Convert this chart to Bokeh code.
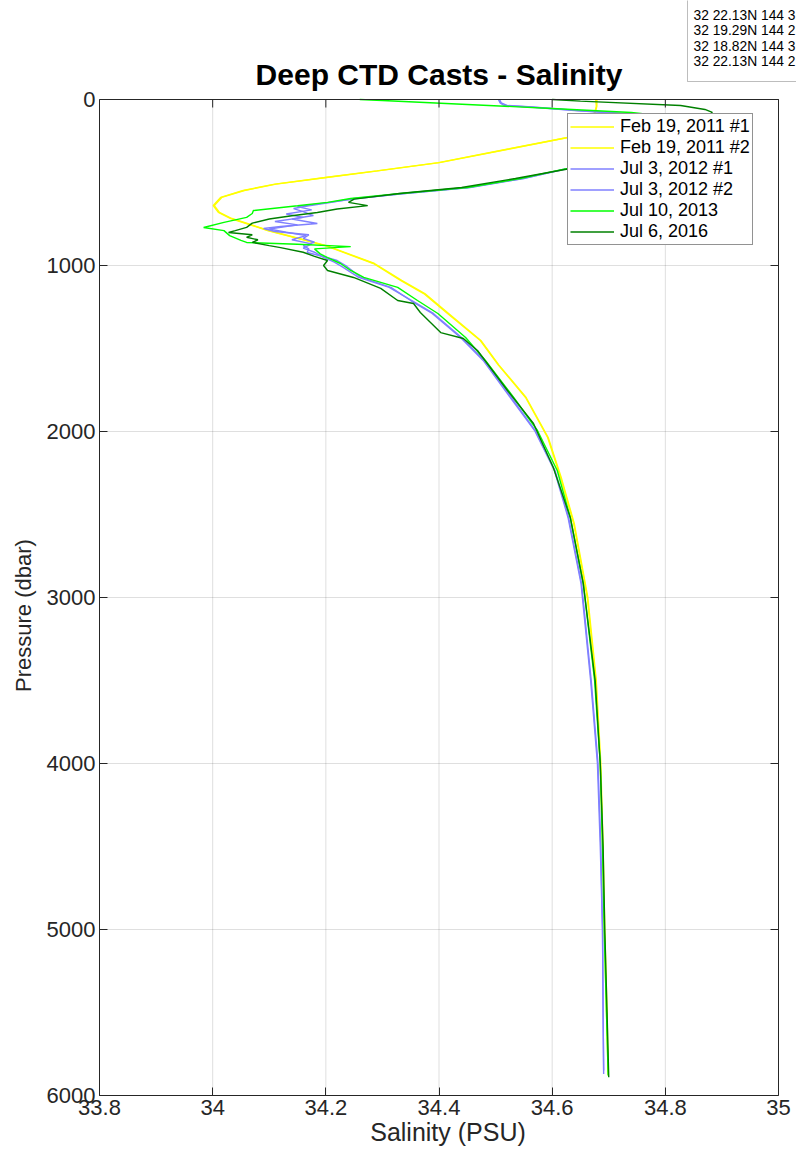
from bokeh.plotting import figure
from bokeh.models import (Range1d, FixedTicker, Legend, LegendItem, Label, BoxAnnotation,
                          Title)
from bokeh.embed import file_html
from bokeh.resources import INLINE

# ---------------- data ----------------
x_ticks = [33.8, 34.0, 34.2, 34.4, 34.6, 34.8, 35.0]
x_tick_labels = ["33.8", "34", "34.2", "34.4", "34.6", "34.8", "35"]
y_ticks = [0, 1000, 2000, 3000, 4000, 5000, 6000]
y_tick_labels = ["0", "1000", "2000", "3000", "4000", "5000", "6000"]

series_names = ["Feb 19, 2011 #1", "Feb 19, 2011 #2", "Jul 3, 2012 #1",
                "Jul 3, 2012 #2", "Jul 10, 2013", "Jul 6, 2016"]
series_colors = ["#ffff00", "#ffff00", "#8080ff", "#8080ff", "#00ff00", "#008000"]

feb1_p = [0, 40, 70, 110, 160, 229, 300, 380, 430, 470, 510, 548, 590, 639, 680, 717,
          789, 880, 988, 1090, 1169, 1289, 1452, 1600, 1795, 2036, 2277, 2554, 3000,
          3500, 4000, 4500, 5000, 5500, 5880]
feb1_s = [34.677, 34.678, 34.676, 34.670, 34.655, 34.627, 34.520, 34.399, 34.290, 34.199,
          34.110, 34.054, 34.014, 34.001, 34.010, 34.032, 34.097, 34.199, 34.284, 34.332,
          34.373, 34.415, 34.473, 34.505, 34.553, 34.592, 34.615, 34.638, 34.662, 34.677,
          34.685, 34.689, 34.692, 34.696, 34.699]

feb2_p = [0, 40, 70, 110, 160, 229, 300, 380, 430, 470, 510, 548, 590, 639, 680, 717,
          789, 880, 988, 1090, 1169, 1289, 1452, 1600, 1795, 2036, 2277, 2554, 3000,
          3500, 4000, 4500, 5000, 5500, 5860]
feb2_s = [34.679, 34.679, 34.677, 34.671, 34.656, 34.628, 34.522, 34.401, 34.292, 34.201,
          34.112, 34.056, 34.016, 34.003, 34.012, 34.034, 34.099, 34.201, 34.286, 34.334,
          34.375, 34.417, 34.474, 34.506, 34.554, 34.593, 34.616, 34.639, 34.663, 34.678,
          34.686, 34.690, 34.693, 34.697, 34.699]

jul12a_p = [0, 20, 36, 45, 66, 90, 130, 200, 300, 415, 476, 530, 566, 596, 620, 640, 657,
            675, 699, 720, 747, 765, 777, 795, 815, 837, 860, 880, 900, 922, 950, 970,
            1000, 1072, 1132, 1211, 1289, 1434, 1572, 1795, 1994, 2235, 2518, 2916, 3500,
            4000, 4500, 5000, 5500, 5870]
jul12a_s = [34.505, 34.508, 34.515, 34.560, 34.640, 34.750, 34.820, 34.800, 34.720, 34.627,
            34.550, 34.455, 34.340, 34.250, 34.210, 34.170, 34.143, 34.160, 34.178, 34.140,
            34.185, 34.120, 34.090, 34.110, 34.170, 34.160, 34.180, 34.160, 34.170, 34.167,
            34.200, 34.220, 34.235, 34.262, 34.315, 34.350, 34.388, 34.438, 34.478, 34.526,
            34.569, 34.604, 34.628, 34.651, 34.668, 34.680, 34.685, 34.689, 34.690, 34.691]

jul12b_p = [0, 20, 36, 45, 66, 90, 130, 200, 300, 415, 476, 530, 566, 596, 620, 645, 665,
            690, 710, 735, 755, 780, 800, 820, 845, 870, 895, 920, 950, 980, 1010, 1072,
            1132, 1211, 1289, 1434, 1572, 1795, 1994, 2235, 2518, 2916, 3500, 4000, 4500,
            5000, 5500, 5850]
jul12b_s = [34.507, 34.510, 34.520, 34.565, 34.645, 34.755, 34.820, 34.800, 34.720, 34.630,
            34.548, 34.452, 34.338, 34.255, 34.205, 34.150, 34.175, 34.130, 34.160, 34.110,
            34.150, 34.100, 34.130, 34.165, 34.140, 34.175, 34.160, 34.180, 34.195, 34.215,
            34.230, 34.258, 34.312, 34.352, 34.390, 34.440, 34.480, 34.528, 34.570, 34.605,
            34.629, 34.652, 34.669, 34.681, 34.686, 34.689, 34.690, 34.691]

jul13_p = [0, 6, 30, 54, 78, 100, 150, 250, 350, 415, 476, 530, 566, 596, 620, 640, 669,
           687, 710, 740, 771, 790, 820, 849, 861, 872, 886, 900, 930, 952, 988, 1030,
           1072, 1132, 1211, 1289, 1434, 1572, 1795, 1994, 2235, 2518, 2916, 3500, 4000,
           4500, 5000, 5500, 5880]
jul13_s = [34.260, 34.300, 34.450, 34.600, 34.740, 34.800, 34.820, 34.760, 34.680, 34.627,
           34.544, 34.450, 34.332, 34.244, 34.203, 34.150, 34.072, 34.070, 34.060, 34.020,
           33.984, 34.020, 34.030, 34.050, 34.060, 34.150, 34.244, 34.180, 34.190, 34.203,
           34.226, 34.244, 34.267, 34.327, 34.362, 34.398, 34.447, 34.482, 34.532, 34.574,
           34.609, 34.632, 34.655, 34.675, 34.685, 34.689, 34.692, 34.696, 34.699]

jul16_p = [0, 10, 36, 60, 78, 120, 200, 300, 420, 476, 530, 566, 600, 620, 639, 660, 681,
           700, 720, 745, 770, 790, 801, 815, 830, 845, 861, 880, 892, 920, 945, 970, 1000,
           1030, 1072, 1138, 1211, 1229, 1283, 1404, 1440, 1512, 1753, 1952, 2217, 2518,
           2916, 3500, 4000, 4500, 5000, 5500, 5890]
jul16_s = [34.600, 34.650, 34.827, 34.870, 34.883, 34.870, 34.810, 34.720, 34.625, 34.535,
           34.440, 34.330, 34.250, 34.240, 34.274, 34.220, 34.185, 34.140, 34.100, 34.070,
           34.060, 34.040, 34.028, 34.070, 34.060, 34.080, 34.070, 34.100, 34.120, 34.160,
           34.180, 34.203, 34.196, 34.203, 34.249, 34.297, 34.327, 34.355, 34.367, 34.403,
           34.443, 34.468, 34.521, 34.567, 34.602, 34.632, 34.655, 34.676, 34.685, 34.690,
           34.693, 34.697, 34.700]

station_lines = ["32 22.13N 144 3", "32 19.29N 144 2",
                 "32 18.82N 144 3", "32 22.13N 144 2"]

title_text = "Deep CTD Casts - Salinity"
x_label = "Salinity (PSU)"
y_label = "Pressure (dbar)"

all_p = [feb1_p, feb2_p, jul12a_p, jul12b_p, jul13_p, jul16_p]
all_s = [feb1_s, feb2_s, jul12a_s, jul12b_s, jul13_s, jul16_s]

# ---------------- layout constants (pixels) ----------------
W, H = 796, 1157
AX_L, AX_R, AX_T, AX_B = 99, 778, 99, 1095     # visible axes box
AX = "#262626"
FONT = "Liberation Sans"

x_lo, x_hi = x_ticks[0], x_ticks[-1]
y_lo, y_hi = y_ticks[0], y_ticks[-1]
sx = (x_hi - x_lo) / (AX_R - AX_L)              # data units per pixel
sy = (y_hi - y_lo) / (AX_B - AX_T)
x_end = x_hi + (W - AX_R) * sx                  # frame extends to page edge
y_top = y_lo - AX_T * sy                        # frame extends to page top

p = figure(width=W, height=H, output_backend="svg", toolbar_location=None,
           x_range=Range1d(x_lo, x_end), y_range=Range1d(y_hi, y_top),
           min_border_left=AX_L, min_border_right=0, min_border_top=0,
           min_border_bottom=H - AX_B, background_fill_color="white",
           border_fill_color="white", outline_line_color=None)
p.title.visible = False
p.xgrid.visible = False
p.ygrid.visible = False

xt = FixedTicker(ticks=x_ticks)
yt = FixedTicker(ticks=y_ticks)

for ax, tk, labs, bnds in ((p.xaxis[0], xt, x_tick_labels, (x_lo, x_hi)),
                           (p.yaxis[0], yt, y_tick_labels, (y_lo, y_hi))):
    ax.ticker = tk
    ax.bounds = bnds
    ax.major_label_overrides = {t: l for t, l in zip(tk.ticks, labs)}
    ax.axis_line_color = AX
    ax.major_tick_line_color = AX
    ax.major_tick_in = 8
    ax.major_tick_out = 0
    ax.minor_tick_line_color = None
    ax.major_label_text_font = FONT
    ax.major_label_text_font_size = "22px"
    ax.major_label_text_color = AX
    ax.major_label_standoff = 4
    ax.axis_label_text_font = FONT
    ax.axis_label_text_font_style = "normal"
    ax.axis_label_text_color = AX

p.xaxis[0].axis_label = x_label
p.xaxis[0].axis_label_text_font_size = "25px"
p.xaxis[0].axis_label_standoff = 0

# y label as a side title so that it can be centred where the reference has it
label_len = 153
ylab = Title(text=y_label, align="left", offset=(AX_B - (615 + label_len / 2)),
             vertical_align="middle", standoff=14, text_font=FONT, text_font_size="22px",
             text_font_style="normal", text_color=AX)
p.add_layout(ylab, "left")

# grid lines (restricted to the axes box)
nx, ny = len(x_ticks), len(y_ticks)
p.segment(x0=x_ticks, y0=[y_lo] * nx, x1=x_ticks, y1=[y_hi] * nx,
          line_color=AX, line_alpha=0.15, line_width=1)
p.segment(x0=[x_lo] * ny, y0=y_ticks, x1=[x_hi] * ny, y1=y_ticks,
          line_color=AX, line_alpha=0.15, line_width=1)

items = []
for name, col, pp, ss in zip(series_names, series_colors, all_p, all_s):
    r = p.line(ss, pp, line_color=col, line_width=1.4)
    items.append(LegendItem(label=name, renderers=[r]))

# box edges and inward ticks on top and right
tick_px = 8
p.segment(x0=[x_lo, x_hi], y0=[y_lo, y_lo], x1=[x_hi, x_hi], y1=[y_lo, y_hi],
          line_color=AX, line_width=1)
p.segment(x0=x_ticks, y0=[y_lo] * nx, x1=x_ticks, y1=[y_lo + tick_px * sy] * nx,
          line_color=AX, line_width=1)
p.segment(x0=[x_hi] * ny, y0=y_ticks, x1=[x_hi - tick_px * sx] * ny, y1=y_ticks,
          line_color=AX, line_width=1)

frame_h = AX_B  # frame spans from page top to the bottom axis
legend = Legend(items=items, location=(567 - AX_L, frame_h - 245), padding=2, spacing=0,
                glyph_width=44, glyph_height=21, label_height=21, label_standoff=6,
                label_text_font=FONT, label_text_font_size="18px",
                label_text_color="black", border_line_color=AX, border_line_width=1,
                background_fill_color="white", background_fill_alpha=1.0)
p.add_layout(legend)

title = Label(x=(AX_L + AX_R) / 2 - AX_L, y=frame_h - 74, x_units="screen", y_units="screen",
              text=title_text, text_font=FONT, text_font_size="30px",
              text_font_style="bold", text_color="black", text_align="center",
              text_baseline="middle")
p.add_layout(title)

box = BoxAnnotation(left=687 - AX_L, right=W + 10 - AX_L, top=frame_h + 6, bottom=frame_h - 81,
                    left_units="screen", right_units="screen", top_units="screen",
                    bottom_units="screen", fill_color="white", fill_alpha=1.0,
                    line_color=AX, line_width=1)
p.add_layout(box)

info = Label(x=693 - AX_L, y=frame_h - 7.5, x_units="screen", y_units="screen",
             text="\n".join(station_lines), text_font=FONT, text_font_size="13.8px",
             text_color="black", text_align="left", text_baseline="top",
             text_line_height=1.02)
p.add_layout(info)

open("out.html", "w").write(file_html(p, INLINE))
